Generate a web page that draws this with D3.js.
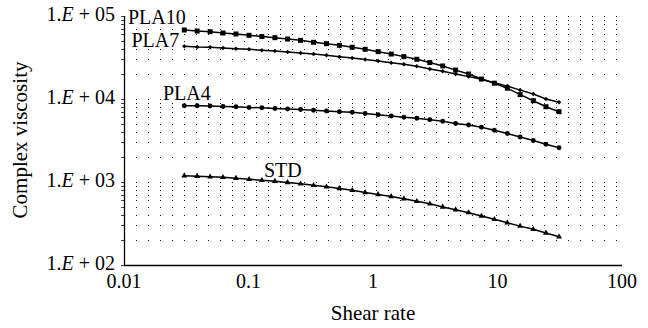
<!DOCTYPE html>
<html>
<head>
<meta charset="utf-8">
<script src="https://cdn.jsdelivr.net/npm/d3@7"></script>
<style>
  body { margin: 0; background: #fff; }
  svg { display: block; font-family: "Liberation Serif", "Times New Roman", serif; }
</style>
</head>
<body>
<div id="chart"></div>
<script>
// shear rate values (x), shared by all series
const shearRate = [0.0305, 0.0387, 0.0492, 0.0624, 0.0793, 0.101, 0.128, 0.163, 0.206, 0.262,
                   0.333, 0.423, 0.537, 0.681, 0.865, 1.10, 1.40, 1.77, 2.25, 2.86,
                   3.63, 4.61, 5.86, 7.43, 9.44, 12.0, 15.2, 19.4, 24.5, 31.2];

// complex viscosity per sample
const pla10 = [67800, 65900, 64700, 62400, 60700, 58500, 56600, 54800, 52800, 50900,
               48200, 46400, 44300, 42000, 39700, 37200, 34800, 32400, 30100, 27500,
               25000, 22300, 20000, 17400, 15500, 13500, 11300, 9540, 8070, 7030];
const pla7 = [43100, 42300, 41900, 41100, 40400, 39700, 38700, 37900, 36800, 35800,
              34800, 33600, 32200, 31200, 29900, 28700, 27400, 26300, 24800, 23000,
              21600, 20000, 18600, 17300, 15700, 14300, 12800, 11500, 10000, 9120];
const pla4 = [8300, 8280, 8240, 8120, 8050, 7900, 7830, 7690, 7580, 7470,
              7310, 7170, 7030, 6920, 6690, 6470, 6240, 6040, 5850, 5640,
              5390, 5070, 4860, 4560, 4200, 3840, 3490, 3160, 2850, 2590];
const std = [1190, 1175, 1155, 1140, 1109, 1078, 1048, 1023, 986, 951,
             912, 875, 835, 794, 747, 707, 669, 628, 585, 546,
             500, 464, 427, 389, 355, 323, 294, 269, 243, 219];

const seriesNames = ['PLA10', 'PLA7', 'PLA4', 'STD'];
const seriesValues = [pla10, pla7, pla4, std];

const xTicks = [0.01, 0.1, 1, 10, 100];
const xTickLabels = ['0.01', '0.1', '1', '10', '100'];
const yTicks = [1e2, 1e3, 1e4, 1e5];
const yTickExps = ['02', '03', '04', '05'];

const width = 648, height = 328;

const svg = d3.select('#chart').append('svg')
    .attr('width', width)
    .attr('height', height);

const x = d3.scaleLog().domain([0.01, 100]).range([124, 622]);
const y = d3.scaleLog().domain([100, 1e5]).range([265, 16]);

// minor grid rows, drawn as dotted lines
const gridVals = [];
[100, 1000, 10000].forEach(dec => {
  for (let k = 1; k <= 9; k++) gridVals.push(k * dec);
});
gridVals.push(1e5);

const snap = v => Math.round(v) + 0.5;

svg.append('g')
    .selectAll('line')
    .data(gridVals.filter(v => v > 100))
    .enter()
    .append('line')
    .attr('x1', 136)
    .attr('x2', 618)
    .attr('y1', d => snap(y(d)))
    .attr('y2', d => snap(y(d)))
    .attr('stroke', '#111')
    .attr('stroke-width', 1)
    .attr('stroke-dasharray', '1 11');

// y axis minor ticks
svg.append('g')
    .selectAll('line')
    .data(gridVals)
    .enter()
    .append('line')
    .attr('x1', 121)
    .attr('x2', 124)
    .attr('y1', d => snap(y(d)))
    .attr('y2', d => snap(y(d)))
    .attr('stroke', '#444')
    .attr('stroke-width', 1);

// axes
svg.append('line')
    .attr('x1', 124.5).attr('x2', 124.5)
    .attr('y1', y(1e5)).attr('y2', y(100))
    .attr('stroke', '#000').attr('stroke-width', 1.3);
svg.append('line')
    .attr('x1', 124).attr('x2', x(100))
    .attr('y1', 265.5).attr('y2', 265.5)
    .attr('stroke', '#000').attr('stroke-width', 1.3);

svg.append('g')
    .selectAll('text')
    .data(xTicks)
    .enter()
    .append('text')
    .attr('x', d => x(d))
    .attr('y', 288)
    .attr('text-anchor', 'middle')
    .style('font-size', '20px')
    .text((d, i) => xTickLabels[i]);

const yLab = svg.append('g')
    .selectAll('text')
    .data(yTicks)
    .enter()
    .append('text')
    .attr('x', 115)
    .attr('y', d => y(d) + 5)
    .attr('text-anchor', 'end')
    .style('font-size', '20px')
    .style('white-space', 'pre');
yLab.append('tspan').text('1.');
yLab.append('tspan').style('font-style', 'italic').text('E');
yLab.append('tspan').text((d, i) => ' + ' + yTickExps[i]);

svg.append('text')
    .attr('x', 373)
    .attr('y', 320)
    .attr('text-anchor', 'middle')
    .style('font-size', '21px')
    .text('Shear rate');

svg.append('text')
    .attr('transform', 'translate(27,140) rotate(-90)')
    .attr('text-anchor', 'middle')
    .style('font-size', '21px')
    .text('Complex viscosity');

// series lines + markers
const line = d3.line()
    .x((d, i) => x(shearRate[i]))
    .y(d => y(d));

const symbols = [
  {type: d3.symbolSquare, size: 25, rot: 0},
  {type: d3.symbolSquare, size: 10, rot: 45},
  {type: d3.symbolCircle, size: 19, rot: 0},
  {type: d3.symbolTriangle, size: 15, rot: 0}
];

const series = svg.append('g')
    .selectAll('g')
    .data(seriesValues)
    .enter()
    .append('g');

series.append('path')
    .attr('d', d => line(d))
    .attr('fill', 'none')
    .attr('stroke', '#000')
    .attr('stroke-width', 1.5);

series.each(function(vals, si) {
  const sym = symbols[si];
  d3.select(this).selectAll('path.mk')
      .data(vals)
      .enter()
      .append('path')
      .attr('class', 'mk')
      .attr('d', d3.symbol().type(sym.type).size(sym.size))
      .attr('transform', (d, i) =>
          'translate(' + x(shearRate[i]) + ',' + y(d) + ') rotate(' + sym.rot + ')')
      .attr('fill', '#000');
});

// series labels with white backing
const labelPos = [[128, 24], [131.5, 46.5], [163, 100], [264, 176.5]];

const labels = svg.append('g')
    .selectAll('g')
    .data(seriesNames)
    .enter()
    .append('g');

labels.append('text')
    .attr('x', (d, i) => labelPos[i][0])
    .attr('y', (d, i) => labelPos[i][1])
    .style('font-size', '20px')
    .text(d => d);

labels.each(function() {
  const g = d3.select(this);
  const bb = g.select('text').node().getBBox();
  g.insert('rect', 'text')
      .attr('x', bb.x - 1)
      .attr('y', bb.y + 2)
      .attr('width', bb.width + 2)
      .attr('height', bb.height - 5)
      .attr('fill', '#fff');
});
</script>
</body>
</html>
